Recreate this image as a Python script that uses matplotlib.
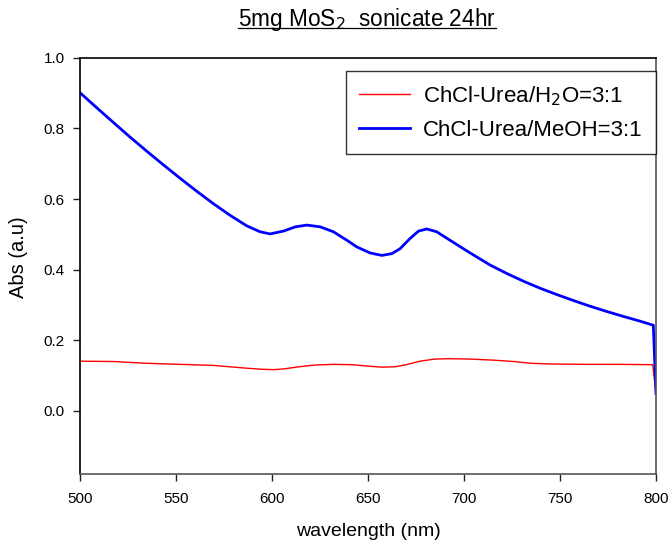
import matplotlib.pyplot as plt
from matplotlib.lines import Line2D

plt.rcParams['font.family'] = ['Liberation Sans', 'DejaVu Sans']

# Absorbance spectra
wl_meoh = [500, 508.7, 517.4, 526, 534.7, 543.4, 552.1, 560.8, 569.4, 578.1, 586.8,
           593.8, 599, 606, 612.1, 618.2, 625.1, 632, 639, 644.2, 651.1, 657.2, 662.4,
           666.7, 671.9, 676.3, 680.6, 685.8, 692.7, 702.3, 713.5, 722.2, 730.9, 739.6,
           748.3, 757, 765.6, 774.3, 783, 791.7, 798.6, 800]
abs_meoh = [0.9015, 0.859, 0.817, 0.776, 0.736, 0.697, 0.659, 0.622, 0.587, 0.554, 0.524,
            0.507, 0.501, 0.509, 0.521, 0.526, 0.521, 0.507, 0.483, 0.464, 0.447, 0.440,
            0.445, 0.459, 0.488, 0.509, 0.515, 0.507, 0.483, 0.450, 0.413, 0.389, 0.367,
            0.347, 0.329, 0.312, 0.296, 0.281, 0.267, 0.2535, 0.242, 0.048]

wl_h2o = [500, 517.4, 534.7, 552, 569.4, 587, 595, 601, 606, 614, 622, 632, 642, 650,
          657, 664, 670, 677, 685, 692, 703, 715, 726, 735, 745, 764, 780, 798.3, 800]
abs_h2o = [0.140, 0.139, 0.134, 0.131, 0.128, 0.120, 0.117, 0.116, 0.118, 0.124, 0.129,
           0.131, 0.130, 0.126, 0.123, 0.124, 0.130, 0.140, 0.146, 0.147, 0.146, 0.143,
           0.139, 0.134, 0.132, 0.131, 0.131, 0.130, 0.05]

x_ticks = [500, 550, 600, 650, 700, 750, 800]
y_ticks = [0.0, 0.2, 0.4, 0.6, 0.8, 1.0]

fig = plt.figure(figsize=(6.7, 5.45), dpi=100)
ax = fig.add_axes([0.1194, 0.1303, 0.8597, 0.7633])

ax.plot(wl_h2o, abs_h2o, color='red', linewidth=1.0, label='ChCl-Urea/H$_2$O=3:1')
ax.plot(wl_meoh, abs_meoh, color='blue', linewidth=2.0, label='ChCl-Urea/MeOH=3:1')

ax.set_xlim(500, 800)
ax.set_ylim(-0.18, 1.0)
ax.set_xticks(x_ticks)
ax.set_yticks(y_ticks)
ax.set_yticklabels([f'{v:.1f}' for v in y_ticks])
ax.tick_params(direction='out', length=5, width=1, labelsize=11, color='#222222')
ax.tick_params(axis='x', pad=8)
ax.tick_params(axis='y', pad=6)
for side in ['left', 'top']:
    ax.spines[side].set_color('black')
for side in ['bottom', 'right']:
    ax.spines[side].set_color('#555555')
for s in ax.spines.values():
    s.set_linewidth(1.2)

ax.set_xlabel('wavelength (nm)', fontsize=14, va='center')
ax.xaxis.set_label_coords(0.5, -0.139)
ax.set_ylabel('Abs (a.u)', fontsize=14.5, va='center')
ax.yaxis.set_label_coords(-0.106, 0.52)

leg = ax.legend(loc='upper right', bbox_to_anchor=(1.0, 0.969), borderaxespad=0,
                fontsize=16, frameon=True, fancybox=False, handlelength=2.3,
                handletextpad=0.58, labelspacing=0.55, borderpad=0.6)
leg.get_frame().set_edgecolor('black')
leg.get_frame().set_linewidth(1.0)

title = fig.text(0.548, 0.953, '5mg MoS$_2$  sonicate 24hr', ha='center', va='baseline',
                 fontsize=16.3)

# underline the title like the original
fig.canvas.draw()
bb = title.get_window_extent()
_, base_y = fig.transFigure.transform((0, 0.953))
y_line = (base_y - 2) / fig.bbox.height
fig.add_artist(Line2D([bb.x0 / fig.bbox.width, bb.x1 / fig.bbox.width], [y_line, y_line],
                      transform=fig.transFigure, color='black', linewidth=0.9))

fig.savefig('out.png', dpi=100)
